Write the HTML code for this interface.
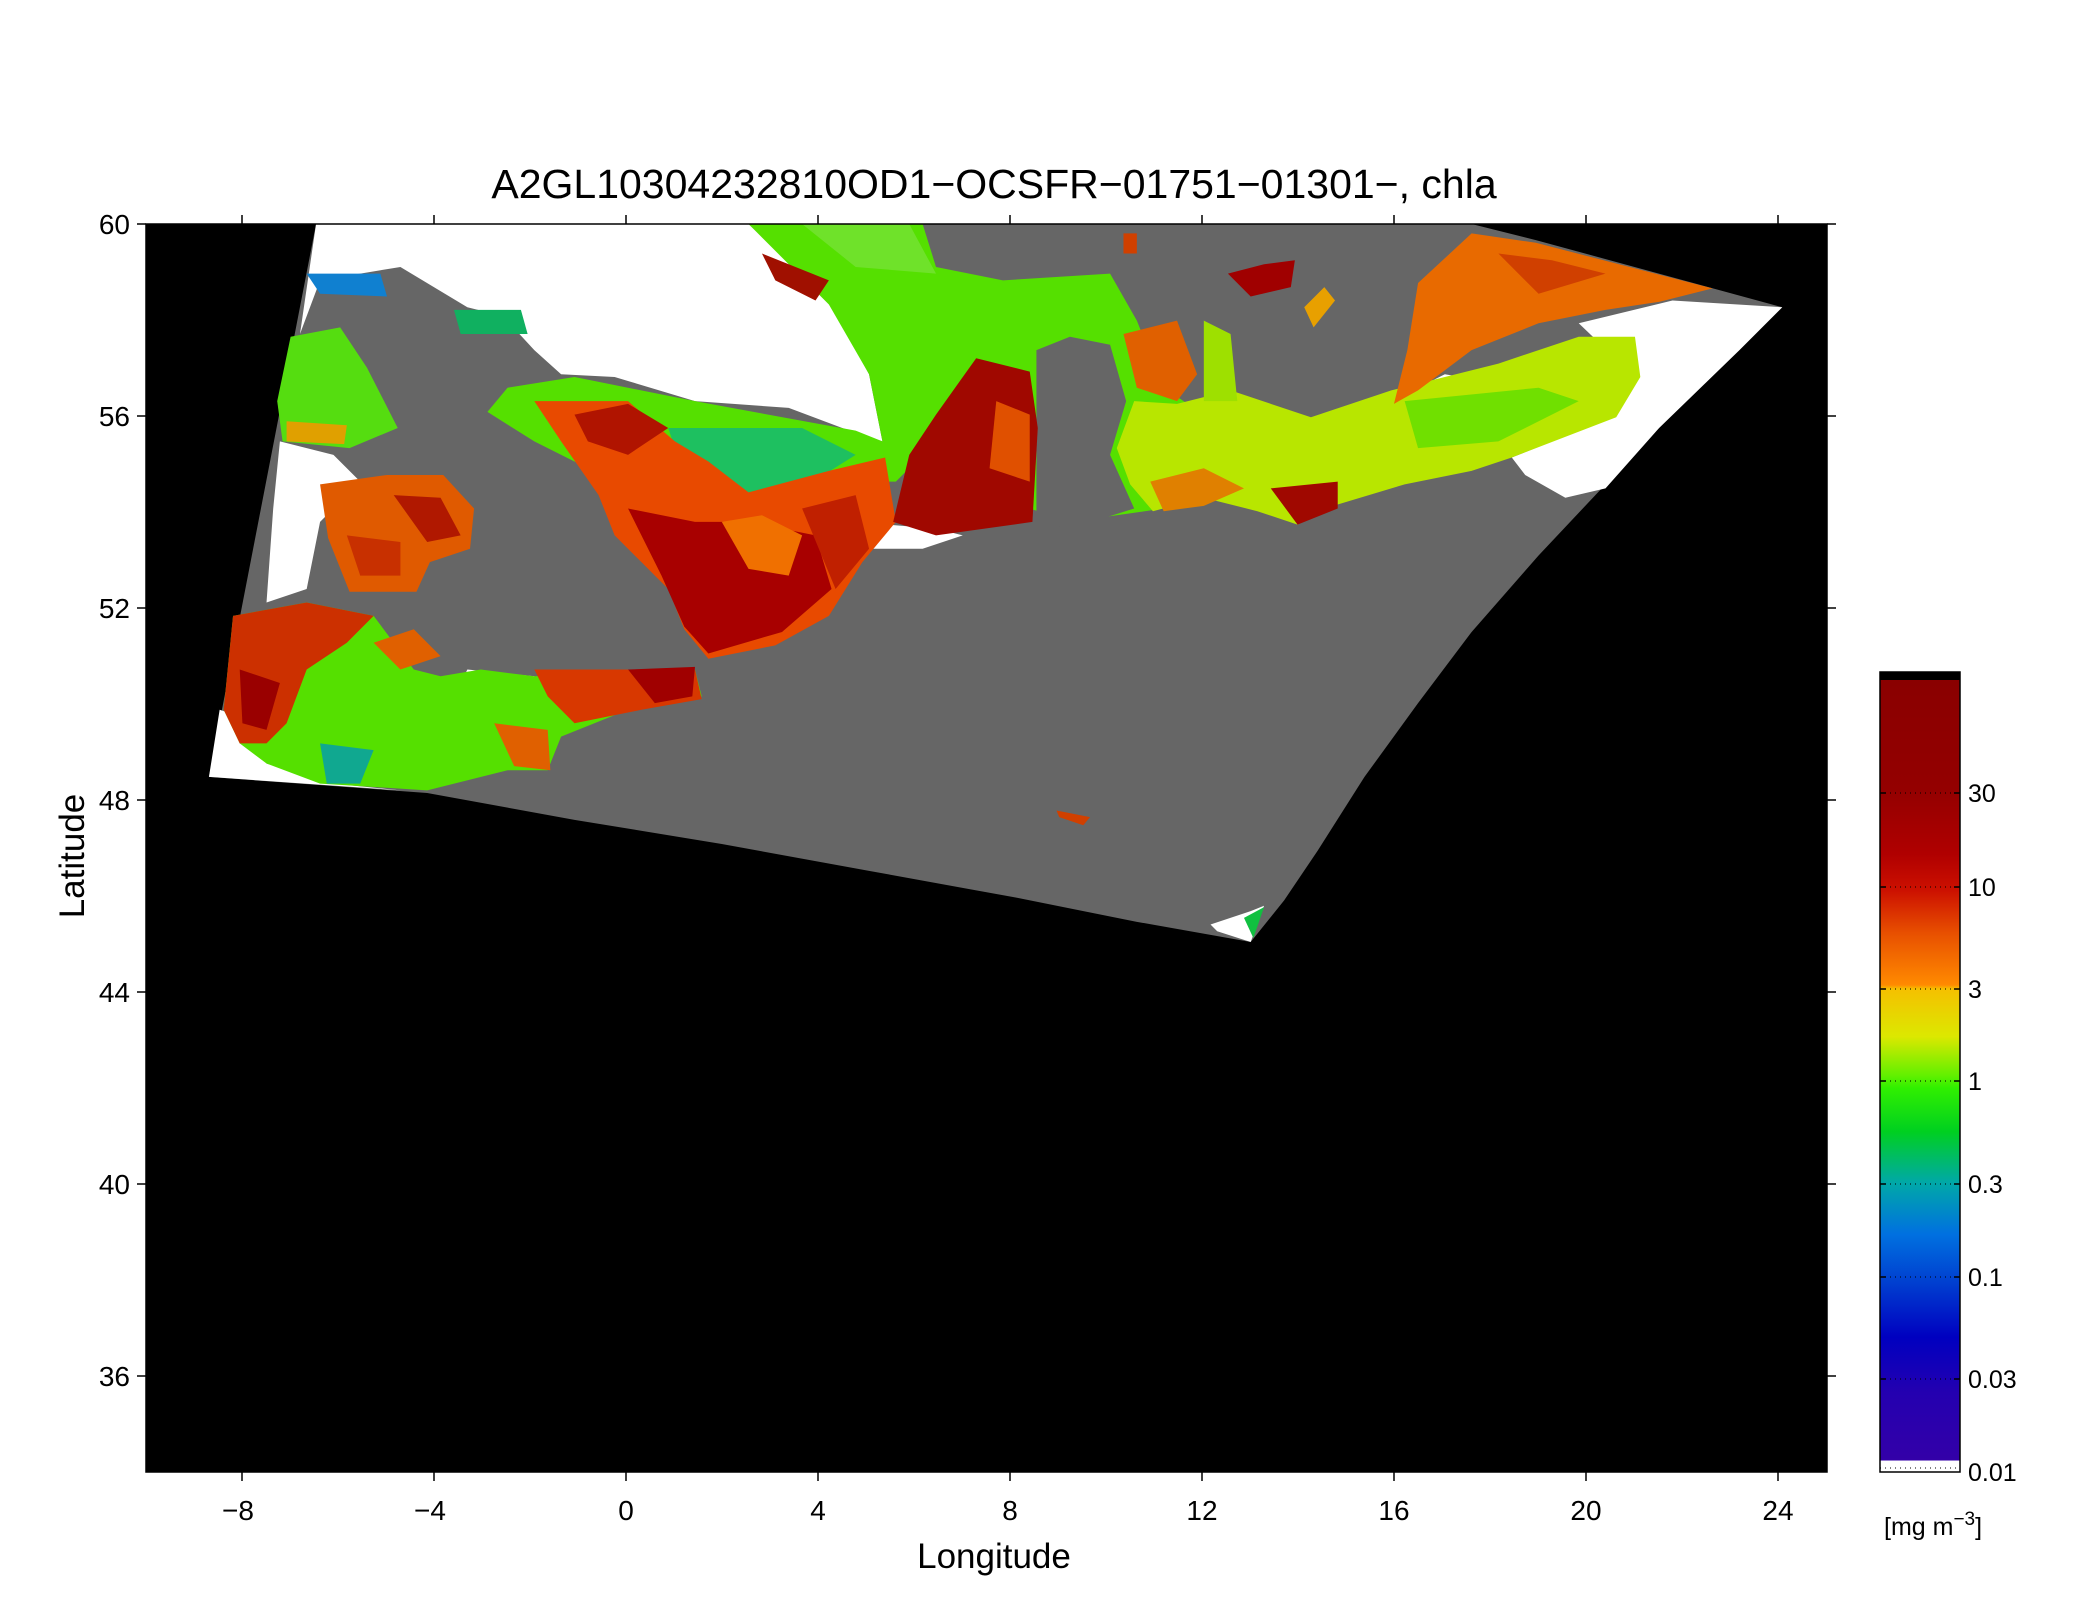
<!DOCTYPE html>
<html><head><meta charset="utf-8"><style>
html,body{margin:0;padding:0;background:#fff;}
svg{display:block;}
text{font-family:"Liberation Sans",sans-serif;fill:#000;}
</style></head><body>
<svg width="2099" height="1600" viewBox="0 0 2099 1600" xmlns="http://www.w3.org/2000/svg">
<defs>
<linearGradient id="cb" x1="0" y1="0" x2="0" y2="1">
<stop offset="0" stop-color="#8a0000"/>
<stop offset="0.14" stop-color="#940000"/>
<stop offset="0.22" stop-color="#b00000"/>
<stop offset="0.265" stop-color="#cc1000"/>
<stop offset="0.32" stop-color="#e85000"/>
<stop offset="0.385" stop-color="#ff8a00"/>
<stop offset="0.39" stop-color="#f5c000"/>
<stop offset="0.45" stop-color="#dce800"/>
<stop offset="0.5" stop-color="#60f000"/>
<stop offset="0.515" stop-color="#30f000"/>
<stop offset="0.57" stop-color="#00d020"/>
<stop offset="0.635" stop-color="#00a8a8"/>
<stop offset="0.7" stop-color="#0070e0"/>
<stop offset="0.76" stop-color="#0040d0"/>
<stop offset="0.83" stop-color="#0000c0"/>
<stop offset="0.9" stop-color="#2400b0"/>
<stop offset="0.985" stop-color="#3300a8"/>
<stop offset="0.986" stop-color="#ffffff"/>
<stop offset="1" stop-color="#ffffff"/>
</linearGradient>
<clipPath id="pc"><rect x="146" y="224" width="1681" height="1248"/></clipPath>
</defs>

<text x="994" y="198" font-size="41" text-anchor="middle">A2GL10304232810OD1−OCSFR−01751−01301−, chla</text>

<rect x="146" y="224" width="1681" height="1248" fill="#000"/>
<g clip-path="url(#pc)">
<g transform="translate(146,224) scale(1.339,1.342) translate(-110,-168)">
<path d="M237,168 L1100,168 L1148,180 L1332,230 L1300,262 L1240,320 L1200,362 L1150,415 L1100,472 L1060,525 L1020,580 L985,635 L960,672 L935,703 L850,688 L760,670 L650,650 L540,630 L430,612 L320,592 L157,580 Z" fill="#666"/>
<path d="M237,168 L375,168 L400,200 L390,240 L350,230 L300,200 L240,210 L225,250 Z" fill="#fff"/>
<path d="M375,168 L560,168 L620,225 L650,280 L660,330 L630,320 L590,305 L520,300 L460,282 L420,280 L400,262 L375,235 Z" fill="#fff"/>
<path d="M157,580 L165,530 L180,535 L200,570 L250,585 L300,590 Z" fill="#fff"/>
<path d="M210,330 L250,340 L270,360 L240,390 L230,440 L200,450 L205,380 Z" fill="#fff"/>
<path d="M1180,242 L1250,225 L1332,230 L1300,262 L1240,320 L1200,365 L1170,372 L1140,355 L1130,342 L1205,312 L1222,282 Z" fill="#fff"/>
<path d="M1040,300 L1080,280 L1110,285 L1060,310 L1040,312 Z" fill="#fff"/>
<path d="M640,390 L700,395 L720,400 L690,410 L650,410 Z" fill="#fff"/>
<path d="M350,500 L400,505 L420,540 L380,545 L340,520 Z" fill="#fff"/>
<path d="M820,320 L860,310 L870,340 L840,350 Z" fill="#fff"/>
<!-- North Sea green -->
<path d="M560,168 L690,168 L700,200 L750,210 L830,205 L850,240 L870,290 L900,310 L930,330 L920,360 L870,380 L800,390 L770,380 L700,330 L670,360 L640,360 L600,370 L560,390 L500,390 L440,350 L400,330 L365,308 L380,290 L430,282 L520,300 L640,322 L660,330 L650,280 L620,228 Z" fill="#55e000"/>
<path d="M600,168 L680,168 L700,205 L640,200 Z" fill="#6fe22a"/>
<path d="M500,320 L600,320 L640,340 L600,365 L540,370 L510,350 Z" fill="#1ec060"/>
<path d="M570,190 L620,210 L610,225 L580,210 Z" fill="#a01000"/>
<!-- Jutland land -->
<path d="M775,262 L800,252 L830,258 L842,300 L830,340 L848,380 L800,395 L775,390 Z" fill="#666"/>
<path d="M840,250 L880,240 L895,280 L880,300 L850,290 Z" fill="#e06000"/>
<!-- England east coast -->
<path d="M400,300 L470,300 L505,330 L530,345 L560,368 L620,352 L662,342 L670,390 L645,420 L620,460 L580,482 L530,492 L512,470 L500,440 L480,420 L460,400 L448,370 L420,330 Z" fill="#e84a00"/>
<path d="M430,310 L470,302 L500,320 L470,340 L440,330 Z" fill="#b01400"/>
<path d="M470,380 L520,390 L560,390 L610,400 L622,440 L585,472 L530,488 L512,468 L495,430 Z" fill="#a80000"/>
<path d="M540,390 L570,385 L600,400 L590,430 L560,425 Z" fill="#f07000"/>
<path d="M600,380 L640,370 L650,410 L625,440 Z" fill="#c02000"/>
<!-- Danish coast -->
<path d="M730,268 L770,278 L776,320 L772,390 L700,400 L668,390 L680,340 L700,310 Z" fill="#a00800"/>
<path d="M745,300 L770,310 L770,360 L740,350 Z" fill="#e05000"/>
<!-- Channel / Celtic -->
<path d="M175,460 L230,450 L280,460 L310,500 L330,505 L360,500 L400,505 L520,500 L525,520 L470,530 L420,550 L410,575 L380,575 L320,590 L240,585 L200,570 L180,555 L168,530 L172,490 Z" fill="#55e000"/>
<path d="M175,460 L230,450 L280,460 L260,480 L230,500 L215,540 L200,555 L180,555 L168,530 L172,490 Z" fill="#cc3000"/>
<path d="M180,500 L210,510 L200,545 L182,540 Z" fill="#9a0000"/>
<path d="M400,500 L440,500 L520,500 L525,522 L480,530 L430,540 L410,520 Z" fill="#d83800"/>
<path d="M470,500 L520,498 L518,520 L490,525 Z" fill="#a00000"/>
<path d="M370,540 L410,545 L412,575 L385,572 Z" fill="#e06000"/>
<path d="M240,555 L280,560 L270,585 L245,585 Z" fill="#10a890"/>
<path d="M280,480 L310,470 L330,490 L300,500 Z" fill="#e06000"/>
<!-- Irish sea -->
<path d="M240,362 L290,355 L332,355 L355,380 L352,410 L322,420 L312,442 L262,442 L246,402 Z" fill="#e05a00"/>
<path d="M295,370 L330,372 L345,400 L320,405 Z" fill="#b01800"/>
<path d="M260,400 L300,405 L300,430 L270,430 Z" fill="#c83000"/>
<!-- West Scotland -->
<path d="M218,252 L255,245 L275,275 L298,320 L262,335 L212,330 L208,300 Z" fill="#55dd10"/>
<path d="M215,315 L260,318 L258,332 L215,330 Z" fill="#e0a000"/>
<path d="M230,205 L285,205 L290,222 L240,220 Z" fill="#1080d0"/>
<path d="M340,232 L390,232 L395,250 L345,250 Z" fill="#10b060"/>
<!-- Kattegat / Baltic -->
<path d="M848,300 L880,302 L920,292 L980,312 L1040,292 L1080,282 L1120,272 L1180,252 L1222,252 L1226,282 L1208,312 L1130,342 L1100,352 L1050,362 L1000,377 L970,392 L940,382 L900,372 L862,382 L845,362 L835,335 Z" fill="#b8e600"/>
<path d="M1050,300 L1150,290 L1180,300 L1120,330 L1060,335 Z" fill="#70e000"/>
<path d="M860,360 L900,350 L930,365 L900,378 L870,382 Z" fill="#e08000"/>
<path d="M950,365 L1000,360 L1000,380 L970,392 Z" fill="#a00800"/>
<path d="M900,240 L920,250 L925,300 L900,300 Z" fill="#9ee000"/>
<!-- Bothnia/Finland -->
<path d="M1060,212 L1100,175 L1148,182 L1280,216 L1240,226 L1200,232 L1150,242 L1100,262 L1060,292 L1042,302 L1052,262 Z" fill="#e86a00"/>
<path d="M1120,190 L1160,195 L1200,205 L1150,220 Z" fill="#d04000"/>
<!-- spots -->
<path d="M918,205 L945,198 L968,195 L965,215 L935,222 Z" fill="#a00000"/>
<path d="M975,230 L990,215 L998,225 L982,245 Z" fill="#e8a000"/>
<path d="M840,175 L850,175 L850,190 L840,190 Z" fill="#d04000"/>
<path d="M790,605 L815,610 L810,616 L792,610 Z" fill="#d04000"/>
<path d="M905,690 L935,680 L945,676 L935,703 L910,695 Z" fill="#fff"/>
<path d="M930,685 L945,677 L937,700 Z" fill="#10c040"/>
</g>
</g>

<g stroke="#000" stroke-width="1.5" fill="none">
<rect x="146" y="224" width="1681" height="1248"/>
<path d="M242,224v-9M434,224v-9M626,224v-9M818,224v-9M1010,224v-9M1202,224v-9M1394,224v-9M1586,224v-9M1778,224v-9"/>
<path d="M242,1472v9M434,1472v9M626,1472v9M818,1472v9M1010,1472v9M1202,1472v9M1394,1472v9M1586,1472v9M1778,1472v9"/>
<path d="M146,224h-9M146,416h-9M146,608h-9M146,800h-9M146,992h-9M146,1184h-9M146,1376h-9"/>
<path d="M1827,224h9M1827,416h9M1827,608h9M1827,800h9M1827,992h9M1827,1184h9M1827,1376h9"/>
</g>
<g font-size="28" text-anchor="end">
<text x="130" y="234">60</text><text x="130" y="426">56</text><text x="130" y="618">52</text>
<text x="130" y="810">48</text><text x="130" y="1002">44</text><text x="130" y="1194">40</text><text x="130" y="1386">36</text>
</g>
<g font-size="28" text-anchor="middle">
<text x="238" y="1520">−8</text><text x="430" y="1520">−4</text><text x="626" y="1520">0</text>
<text x="818" y="1520">4</text><text x="1010" y="1520">8</text><text x="1202" y="1520">12</text>
<text x="1394" y="1520">16</text><text x="1586" y="1520">20</text><text x="1778" y="1520">24</text>
</g>
<text x="994" y="1568" font-size="35" text-anchor="middle">Longitude</text>
<text transform="translate(84,856) rotate(-90)" font-size="35" text-anchor="middle">Latitude</text>

<rect x="1880" y="672" width="80" height="9" fill="#000"/>
<rect x="1880" y="680" width="80" height="792" fill="url(#cb)"/>
<rect x="1880" y="672" width="80" height="800" fill="none" stroke="#000" stroke-width="1.5"/>
<g stroke="#000" stroke-width="1" stroke-dasharray="1,4">
<path d="M1880,793h80M1880,887h80M1880,989h80M1880,1081h80M1880,1184h80M1880,1277h80M1880,1379h80M1880,1468h80"/>
</g>
<g stroke="#000" stroke-width="1.5">
<path d="M1880,793h6M1954,793h6M1880,887h6M1954,887h6M1880,989h6M1954,989h6M1880,1081h6M1954,1081h6M1880,1184h6M1954,1184h6M1880,1277h6M1954,1277h6M1880,1379h6M1954,1379h6"/>
</g>
<g font-size="25">
<text x="1968" y="802">30</text><text x="1968" y="896">10</text><text x="1968" y="998">3</text>
<text x="1968" y="1090">1</text><text x="1968" y="1193">0.3</text><text x="1968" y="1286">0.1</text>
<text x="1968" y="1388">0.03</text><text x="1968" y="1481">0.01</text>
</g>
<text x="1884" y="1535" font-size="25">[mg m<tspan dy="-10" font-size="19">−3</tspan><tspan dy="10">]</tspan></text>
</svg>
</body></html>
